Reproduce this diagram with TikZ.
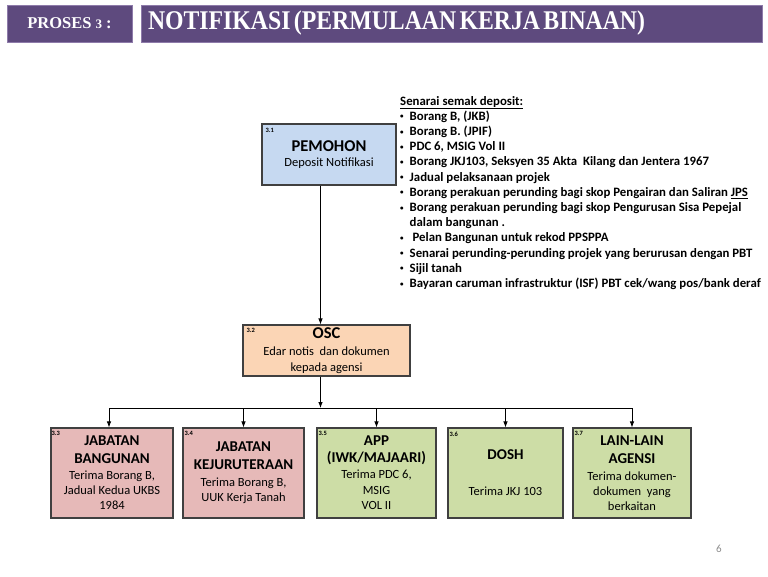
\documentclass[tikz,border=0pt]{standalone}
\usepackage{fontspec}
\setmainfont{Carlito}
\newfontfamily\hdrfont{Liberation Serif}
\newfontfamily\ttlfont[FakeStretch=0.88]{Liberation Serif}
\usetikzlibrary{arrows.meta}

\definecolor{hdrpurple}{HTML}{5E4A7E}
\definecolor{hdrline}{HTML}{8E7BAA}
\definecolor{boxline}{HTML}{404040}
\definecolor{pemohonblue}{HTML}{C6D9F1}
\definecolor{oscpeach}{HTML}{FBD5B5}
\definecolor{jabpink}{HTML}{E6B9B8}
\definecolor{agengreen}{HTML}{CDDDA6}
\definecolor{pagegray}{HTML}{8C8C8C}

\newcommand\boxttl{\fontsize{15}{15}\selectfont\bfseries}
\newcommand\bigttl{\fontsize{16.5}{16.5}\selectfont\bfseries}
\newcommand\boxbdy{\fontsize{12.5}{15}\selectfont\mdseries}
\newcommand\blt{\makebox[9.5pt][l]{\raisebox{1.5pt}{\fontsize{7}{7}\selectfont•}}}

\begin{document}
\begin{tikzpicture}
		[x=1pt,y=-1pt,
		hdr/.style={draw=hdrline,fill=hdrpurple,line width=1pt,text=white,inner sep=0pt,minimum height=37pt},
		b/.style={draw=boxline,line width=1.1pt,align=center,inner sep=0pt,font=\fontsize{12.5}{15}\selectfont},
		num/.style={font=\fontsize{6.5}{7}\selectfont\bfseries,anchor=north west,inner sep=0pt},
		a/.style={-{Latex[length=6pt,width=4.5pt]},line width=0.8pt}]

		\useasboundingbox (0,0) rectangle (768,576);

		\node[hdr,minimum width=125pt] (proses) at (69.5,23.5)
			{\hdrfont\bfseries\fontsize{16.5}{16.5}\selectfont PROSES {\fontsize{13}{13}\selectfont 3} :};

		\node[hdr,minimum width=621pt,text width=607pt,align=left] (judul) at (451.5,23.5)
			{\ttlfont\bfseries\fontsize{27}{27}\selectfont NOTIFIKASI (PERMULAAN KERJA BINAAN)};

		\coordinate (spine) at (320.5,0);
		\coordinate (bus) at (0,408);

		\node[b,fill=pemohonblue,minimum width=134pt,minimum height=61pt] (pemohon) at (329,154.5)
			{\bigttl PEMOHON\\[0.5pt] \boxbdy Deposit Notifikasi};

		\node[b,fill=oscpeach,minimum width=167pt,minimum height=51pt] (osc) at (326.5,350.5)
			{\bigttl OSC\\[2pt] \boxbdy Edar notis\ \ dan dokumen\\[1pt] \boxbdy kepada agensi};

		\node[b,fill=jabpink,minimum width=122pt,minimum height=90pt] (jbg) at (112,473)
			{\boxttl JABATAN\\[3pt] \boxttl BANGUNAN\\[1pt] \boxbdy Terima Borang B,\\ \boxbdy Jadual Kedua UKBS\\ \boxbdy 1984};

		\node[b,fill=jabpink,minimum width=121pt,minimum height=90pt] (jkr) at (243.5,473)
			{\boxttl JABATAN\\[3pt] \boxttl KEJURUTERAAN\\[2pt] \boxbdy Terima Borang B,\\ \boxbdy UUK Kerja Tanah};

		\node[b,fill=agengreen,minimum width=119pt,minimum height=90pt] (app) at (376.5,473)
			{\boxttl APP\\[2pt] \boxttl (IWK/MAJAARI)\\[1pt] \boxbdy Terima PDC 6,\\[1pt] \boxbdy MSIG\\ \boxbdy VOL II};

		\node[b,fill=agengreen,minimum width=115pt,minimum height=90pt] (dosh) at (505.5,473)
			{\boxttl DOSH\\[21pt] \boxbdy Terima JKJ 103};

		\node[b,fill=agengreen,minimum width=118pt,minimum height=90pt] (lain) at (632,473)
			{\boxttl LAIN-LAIN\\[3pt] \boxttl AGENSI\\[2pt] \boxbdy Terima dokumen-\\ \boxbdy dokumen\ \ yang\\ \boxbdy berkaitan};

		\node[num] (npemohon) at ([xshift=4pt,yshift=-5pt]pemohon.north west) {3.1};
		\node[num] (nosc) at ([xshift=4pt,yshift=-4pt]osc.north west) {3.2};
		\node[num] (njbg) at ([xshift=1pt,yshift=-4pt]jbg.north west) {3.3};
		\node[num] (njkr) at ([xshift=2pt,yshift=-4pt]jkr.north west) {3.4};
		\node[num] (napp) at ([xshift=2pt,yshift=-4pt]app.north west) {3.5};
		\node[num] (ndosh) at ([xshift=2pt,yshift=-4pt]dosh.north west) {3.6};
		\node[num] (nlain) at ([xshift=2pt,yshift=-4pt]lain.north west) {3.7};

		\draw[a] (pemohon.south -| spine) -- (osc.north -| spine);
		\draw[a] (osc.south -| spine) -- (spine |- bus);
		\draw[line width=0.8pt] ([xshift=-3pt]jbg.north |- bus) -- (lain.north |- bus);
		\draw[a] ([xshift=-3pt]jbg.north |- bus) -- ([xshift=-3pt]jbg.north);
		\draw[a] (jkr.north |- bus) -- (jkr.north);
		\draw[a] (app.north |- bus) -- (app.north);
		\draw[a] (dosh.north |- bus) -- (dosh.north);
		\draw[a] (lain.north |- bus) -- (lain.north);

		\node[anchor=north west,inner sep=0pt,align=left,font=\fontsize{12.8}{15.2}\selectfont\bfseries] (senarai) at (400,96)
			{\underline{Senarai semak deposit:}\\
			\blt Borang B, (JKB)\\
			\blt Borang B. (JPIF)\\
			\blt PDC 6, MSIG Vol II\\
			\blt Borang JKJ103, Seksyen 35 Akta\ \ Kilang dan Jentera 1967\\
			\blt Jadual pelaksanaan projek\\
			\blt Borang perakuan perunding bagi skop Pengairan dan Saliran \underline{JPS}\\
			\blt Borang perakuan perunding bagi skop Pengurusan Sisa Pepejal\\
			\hspace*{9.5pt}dalam bangunan .\\
			\blt\ Pelan Bangunan untuk rekod PPSPPA\\
			\blt Senarai perunding-perunding projek yang berurusan dengan PBT\\
			\blt Sijil tanah\\
			\blt Bayaran caruman infrastruktur (ISF) PBT cek/wang pos/bank deraf};

		\node[font=\fontsize{11}{11}\selectfont,text=pagegray] (hal) at (719,549) {6};

	\end{tikzpicture}
\end{document}
